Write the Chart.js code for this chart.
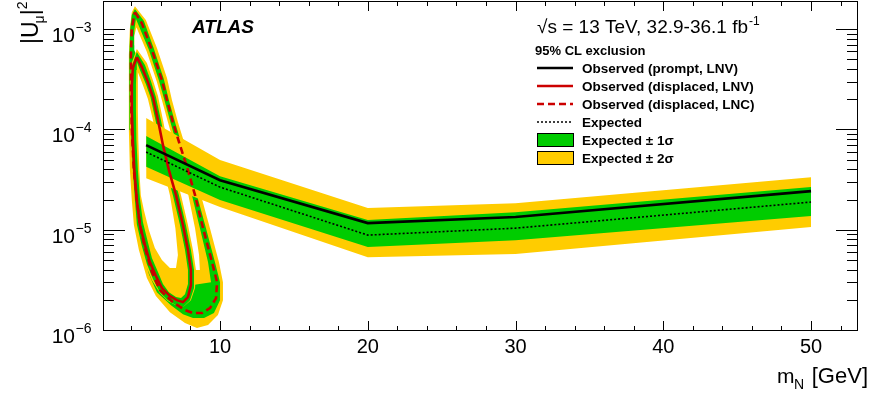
<!DOCTYPE html>
<html>
<head>
<meta charset="utf-8">
<script src="https://cdn.jsdelivr.net/npm/chart.js@4.4.1/dist/chart.umd.min.js"></script>
<style>
  html, body { margin: 0; padding: 0; background: #fff; }
  #wrap { width: 873px; height: 399px; position: relative; }
</style>
</head>
<body>
<div id="wrap"><canvas id="myChart"></canvas></div>
<script>
// prompt search (m_N in GeV, |U_mu|^2)
const promptMass = [5, 10, 20, 30, 50];
const promptObserved = [7.13e-5, 3.19e-5, 1.19e-5, 1.37e-5, 2.48e-5];
const promptExpected = [6.08e-5, 2.72e-5, 9.04e-6, 1.06e-5, 1.93e-5];
const promptPlus1 = [8.77e-5, 3.50e-5, 1.28e-5, 1.53e-5, 2.72e-5];
const promptMinus1 = [4.35e-5, 2.02e-5, 6.86e-6, 8.05e-6, 1.40e-5];
const promptPlus2 = [1.33e-4, 5.06e-5, 1.68e-5, 1.88e-5, 3.42e-5];
const promptMinus2 = [3.34e-5, 1.72e-5, 5.45e-6, 5.85e-6, 1.09e-5];

// displaced LNC: observed contour and expected band edges
const lncMass = [4.24, 4.71, 5.39, 6.07, 6.41, 6.81, 7.29, 7.83, 8.31, 8.85, 9.46, 9.80, 9.73, 9.32, 8.78, 8.17, 7.63, 6.81, 5.93, 5.39, 4.92, 4.58, 4.37, 4.17, 4.03, 3.97, 3.97, 4.03, 4.24];
const lncU2 = [1.51e-3, 1.17e-3, 6.32e-4, 3.17e-4, 2.00e-4, 1.21e-4, 7.13e-5, 4.02e-5, 2.26e-5, 1.06e-5, 4.86e-6, 3.07e-6, 2.13e-6, 1.69e-6, 1.51e-6, 1.51e-6, 1.62e-6, 1.94e-6, 2.56e-6, 3.87e-6, 6.71e-6, 1.14e-5, 2.02e-5, 4.02e-5, 1.01e-4, 2.52e-4, 5.64e-4, 1.05e-3, 1.51e-3];
const lncY2outMass = [4.24, 4.98, 5.73, 6.41, 6.75, 7.15, 7.63, 8.17, 8.71, 9.32, 9.93, 10.20, 10.20, 9.86, 9.19, 8.44, 7.63, 6.61, 5.66, 5.05, 4.51, 4.17, 4.03, 3.90, 3.83, 3.83, 3.83, 3.90, 4.03, 4.24];
const lncY2outU2 = [1.73e-3, 1.26e-3, 6.62e-4, 3.32e-4, 2.00e-4, 1.21e-4, 7.13e-5, 4.02e-5, 2.26e-5, 1.06e-5, 4.86e-6, 3.07e-6, 2.03e-6, 1.44e-6, 1.15e-6, 1.07e-6, 1.20e-6, 1.54e-6, 2.23e-6, 3.37e-6, 6.41e-6, 1.14e-5, 2.02e-5, 4.02e-5, 1.01e-4, 2.52e-4, 5.64e-4, 1.05e-3, 1.51e-3, 1.73e-3];
const lncG1outMass = [4.24, 4.85, 5.53, 6.20, 6.54, 6.95, 7.42, 7.97, 8.44, 9.05, 9.66, 10.0, 10.0, 9.59, 8.92, 8.17, 7.49, 6.68, 5.73, 5.19, 4.71, 4.37, 4.24, 4.03, 3.90, 3.86, 3.86, 3.93, 4.03, 4.24];
const lncG1outU2 = [1.62e-3, 1.23e-3, 6.47e-4, 3.24e-4, 2.00e-4, 1.21e-4, 7.13e-5, 4.02e-5, 2.26e-5, 1.06e-5, 4.86e-6, 3.07e-6, 2.03e-6, 1.51e-6, 1.35e-6, 1.35e-6, 1.47e-6, 1.81e-6, 2.44e-6, 3.69e-6, 6.56e-6, 1.14e-5, 2.02e-5, 4.02e-5, 1.01e-4, 2.52e-4, 5.64e-4, 1.05e-3, 1.41e-3, 1.62e-3];
const lncG1inMass = [4.31, 5.19, 5.86, 6.24, 6.64, 7.08, 7.63, 8.10, 8.64, 9.19, 9.39, 8.17, 8.03, 7.83, 7.49, 7.02, 6.54, 6.14, 5.80, 5.46, 5.12, 4.71, 4.37, 4.24, 4.20, 4.31];
const lncG1inU2 = [1.29e-3, 6.32e-4, 3.17e-4, 2.00e-4, 1.21e-4, 7.13e-5, 4.02e-5, 2.26e-5, 1.06e-5, 4.86e-6, 3.07e-6, 2.87e-6, 4.05e-6, 6.41e-6, 1.14e-5, 2.26e-5, 4.02e-5, 7.13e-5, 1.27e-4, 2.15e-4, 3.03e-4, 4.28e-4, 5.38e-4, 7.08e-4, 1.00e-3, 1.29e-3];
const lncY2inMass = [4.34, 5.05, 5.73, 6.07, 6.47, 6.92, 7.42, 7.86, 8.31, 8.58, 8.64, 8.24, 7.83, 7.49, 7.02, 6.54, 6.14, 5.80, 5.46, 5.12, 4.71, 4.37, 4.20, 4.20, 4.34];
const lncY2inU2 = [1.07e-3, 6.04e-4, 3.03e-4, 2.00e-4, 1.21e-4, 7.13e-5, 4.02e-5, 2.26e-5, 1.06e-5, 5.71e-6, 4.05e-6, 4.05e-6, 6.41e-6, 1.14e-5, 2.26e-5, 4.02e-5, 7.13e-5, 1.27e-4, 2.15e-4, 3.03e-4, 4.28e-4, 5.38e-4, 6.32e-4, 8.71e-4, 1.07e-3];

// displaced LNV: observed contour and expected band edges
const lnvMass = [4.37, 4.71, 5.12, 5.46, 5.80, 6.14, 6.54, 7.02, 7.49, 7.83, 8.03, 8.03, 7.83, 7.49, 7.08, 6.61, 6.07, 5.66, 5.25, 4.92, 4.58, 4.37, 4.20, 4.10, 4.03, 4.03, 4.10, 4.37];
const lnvU2 = [5.38e-4, 4.28e-4, 3.03e-4, 2.15e-4, 1.27e-4, 7.13e-5, 4.02e-5, 2.26e-5, 1.14e-5, 6.41e-6, 4.05e-6, 2.87e-6, 2.18e-6, 1.94e-6, 2.03e-6, 2.23e-6, 2.68e-6, 3.53e-6, 4.86e-6, 7.18e-6, 1.14e-5, 2.02e-5, 4.02e-5, 8.00e-5, 1.59e-4, 2.83e-4, 4.18e-4, 5.38e-4];
const lnvY2outMass = [4.37, 5.05, 5.46, 5.80, 6.14, 6.47, 6.88, 7.36, 7.83, 8.17, 8.37, 8.31, 8.03, 7.56, 7.02, 6.47, 5.93, 5.39, 4.92, 4.51, 4.24, 4.10, 3.97, 3.90, 3.90, 3.97, 4.37];
const lnvY2outU2 = [6.47e-4, 4.69e-4, 3.17e-4, 2.20e-4, 1.27e-4, 7.13e-5, 4.02e-5, 2.26e-5, 1.14e-5, 6.41e-6, 4.05e-6, 2.68e-6, 2.03e-6, 1.77e-6, 1.81e-6, 1.99e-6, 2.39e-6, 3.21e-6, 4.75e-6, 7.34e-6, 1.28e-5, 2.02e-5, 4.02e-5, 1.01e-4, 2.52e-4, 4.48e-4, 6.47e-4];
const lnvG1outMass = [4.37, 4.92, 5.32, 5.66, 6.00, 6.34, 6.75, 7.22, 7.69, 8.03, 8.24, 8.24, 7.97, 7.56, 7.02, 6.47, 5.93, 5.46, 5.05, 4.71, 4.37, 4.24, 4.10, 4.00, 3.97, 3.97, 4.03, 4.37];
const lnvG1outU2 = [6.04e-4, 4.48e-4, 3.10e-4, 2.15e-4, 1.27e-4, 7.13e-5, 4.02e-5, 2.26e-5, 1.14e-5, 6.41e-6, 4.05e-6, 2.68e-6, 2.03e-6, 1.77e-6, 1.81e-6, 2.03e-6, 2.44e-6, 3.29e-6, 4.65e-6, 7.02e-6, 1.16e-5, 2.02e-5, 4.02e-5, 8.00e-5, 1.59e-4, 2.83e-4, 4.38e-4, 6.04e-4];
const lnvG1inMass = [4.37, 4.58, 4.98, 5.29, 5.63, 5.97, 6.34, 6.81, 7.29, 7.63, 7.83, 7.83, 7.63, 7.36, 7.02, 6.54, 6.14, 5.80, 5.39, 5.12, 4.78, 4.58, 4.44, 4.34, 4.31, 4.31, 4.34, 4.37];
const lnvG1inU2 = [4.80e-4, 3.99e-4, 2.90e-4, 2.15e-4, 1.27e-4, 7.13e-5, 4.02e-5, 2.26e-5, 1.14e-5, 6.41e-6, 4.05e-6, 2.94e-6, 2.33e-6, 2.13e-6, 2.18e-6, 2.44e-6, 2.94e-6, 3.87e-6, 5.33e-6, 7.69e-6, 1.22e-5, 2.11e-5, 4.02e-5, 8.00e-5, 1.59e-4, 2.83e-4, 3.99e-4, 4.80e-4];
const lnvY2inMass = [4.44, 4.78, 5.12, 5.46, 5.80, 6.20, 6.61, 6.98, 7.15, 7.02, 6.61, 6.07, 5.59, 5.19, 4.85, 4.64, 4.54, 4.47, 4.44, 4.44, 4.44];
const lnvY2inU2 = [3.81e-4, 2.83e-4, 2.05e-4, 1.27e-4, 7.13e-5, 4.02e-5, 2.26e-5, 1.06e-5, 5.71e-6, 4.24e-6, 4.24e-6, 5.09e-6, 6.71e-6, 1.01e-5, 1.60e-5, 2.26e-5, 4.02e-5, 8.00e-5, 1.59e-4, 2.83e-4, 3.81e-4];

// axes
const xTickValues = [10, 20, 30, 40, 50];
const yTickExponents = [-6, -5, -4, -3];
const legendLabels = ['Observed (prompt, LNV)', 'Observed (displaced, LNV)', 'Observed (displaced, LNC)', 'Expected', 'Expected \u00b1 1\u03c3', 'Expected \u00b1 2\u03c3'];

const YELLOW = '#ffcc00';
const GREEN = '#00cc00';
const RED = '#cc0000';
const FONT = '"Liberation Sans", Arial, Helvetica, sans-serif';

function pts(xs, ys) {
    return xs.map((x, i) => ({ x: x, y: ys[i] }));
}

// closed contour filled with a colour (painted in order)
function shape(xs, ys, color, order) {
    return { data: pts(xs, ys), fill: 'shape', backgroundColor: color, borderWidth: 0, pointRadius: 0, order: order };
}

function line(xs, ys, color, width, dash, order) {
    return { data: pts(xs, ys), fill: false, borderColor: color, borderWidth: width, borderDash: dash, pointRadius: 0, order: order };
}

const datasets = [
    shape(lncY2outMass, lncY2outU2, YELLOW, 20),   // 0
    shape(lncG1outMass, lncG1outU2, GREEN, 19),    // 1
    shape(lncG1inMass, lncG1inU2, YELLOW, 18),     // 2
    shape(lncY2inMass, lncY2inU2, '#ffffff', 17),  // 3
    shape(lnvY2outMass, lnvY2outU2, YELLOW, 16),   // 4
    shape(lnvG1outMass, lnvG1outU2, GREEN, 15),    // 5
    shape(lnvG1inMass, lnvG1inU2, YELLOW, 14),     // 6
    shape(lnvY2inMass, lnvY2inU2, '#ffffff', 13),  // 7
    { data: pts(promptMass, promptPlus2), fill: 9, backgroundColor: YELLOW, borderWidth: 0, pointRadius: 0, order: 12 },   // 8
    { data: pts(promptMass, promptMinus2), fill: false, borderWidth: 0, pointRadius: 0, order: 11 },                     // 9
    { data: pts(promptMass, promptPlus1), fill: 11, backgroundColor: GREEN, borderWidth: 0, pointRadius: 0, order: 10 },  // 10
    { data: pts(promptMass, promptMinus1), fill: false, borderWidth: 0, pointRadius: 0, order: 9 },                      // 11
    line(lncMass, lncU2, RED, 2.6, [7, 4], 4),
    line(lnvMass, lnvU2, RED, 2.6, [], 3),
    line(promptMass, promptExpected, '#000', 1.6, [2, 2], 2),
    line(promptMass, promptObserved, '#000', 2.6, [], 1)
];

// ROOT style frame, inward ticks, labels, legend
const rootDecor = {
    id: 'rootDecor',
    afterDraw(chart) {
        const ctx = chart.ctx;
        const a = chart.chartArea;
        const xs = chart.scales.x;
        const ys = chart.scales.y;
        ctx.save();
        ctx.strokeStyle = '#000';
        ctx.lineWidth = 1;
        ctx.strokeRect(a.left + 0.5, a.top + 0.5, a.right - a.left - 1, a.bottom - a.top - 1);

        ctx.beginPath();
        for (let v = 4; v <= 52; v += 2) {
            const px = Math.round(xs.getPixelForValue(v)) + 0.5;
            const len = xTickValues.includes(v) ? 10 : 5;
            ctx.moveTo(px, a.bottom); ctx.lineTo(px, a.bottom - len);
            ctx.moveTo(px, a.top); ctx.lineTo(px, a.top + len);
        }
        for (let e = -6; e <= -3; e++) {
            for (let k = 1; k <= 9; k++) {
                const v = k * Math.pow(10, e);
                if (v > ys.max) continue;
                const py = Math.round(ys.getPixelForValue(v)) - 0.5;
                const len = k === 1 ? 22 : 11;
                ctx.moveTo(a.left, py); ctx.lineTo(a.left + len, py);
                ctx.moveTo(a.right, py); ctx.lineTo(a.right - len, py);
            }
        }
        ctx.stroke();

        // y tick labels 10^n
        ctx.fillStyle = '#000';
        ctx.textBaseline = 'alphabetic';
        for (const e of yTickExponents) {
            const py = ys.getPixelForValue(Math.pow(10, e));
            ctx.font = '21px ' + FONT;
            ctx.textAlign = 'right';
            ctx.fillText('10', 75, py + 12);
            ctx.font = '14px ' + FONT;
            ctx.textAlign = 'left';
            ctx.fillText('\u2212' + Math.abs(e), 75.5, py + 2);
        }

        // axis titles
        ctx.textAlign = 'left';
        ctx.font = '21px ' + FONT;
        ctx.fillText('m', 777, 383);
        ctx.font = '14px ' + FONT;
        ctx.fillText('N', 794, 389);
        ctx.font = '22px ' + FONT;
        ctx.textAlign = 'right';
        ctx.fillText('[GeV]', 868, 383);

        ctx.save();
        ctx.translate(38, 44);
        ctx.rotate(-Math.PI / 2);
        ctx.textAlign = 'left';
        let t = 0;
        ctx.font = '23px ' + FONT;
        ctx.fillText('|U', t, 0); t += ctx.measureText('|U').width;
        ctx.font = '14px ' + FONT;
        ctx.fillText('\u03bc', t - 2, 6); t += ctx.measureText('\u03bc').width - 2;
        ctx.font = '23px ' + FONT;
        ctx.fillText('|', t, 0); t += ctx.measureText('|').width;
        ctx.font = '14px ' + FONT;
        ctx.fillText('2', t, -11);
        ctx.restore();

        // labels
        ctx.textAlign = 'left';
        ctx.font = 'italic bold 19px ' + FONT;
        ctx.fillText('ATLAS', 192, 33);
        ctx.font = '19px ' + FONT;
        const energy = '\u221as = 13 TeV, 32.9-36.1 fb';
        const ew = ctx.measureText(energy).width;
        ctx.fillText(energy, 748 - ew, 33);
        ctx.font = '12px ' + FONT;
        ctx.fillText('-1', 749, 25);
        ctx.font = 'bold 13px ' + FONT;
        ctx.fillText('95% CL exclusion', 535, 55);

        // legend
        const rows = [68, 86, 104, 122, 140, 158];
        const styles = [
            { c: '#000', w: 2.6, d: [] },
            { c: RED, w: 2.6, d: [] },
            { c: RED, w: 2.6, d: [7, 4] },
            { c: '#000', w: 1.6, d: [2, 2] },
            { box: GREEN },
            { box: YELLOW }
        ];
        ctx.font = 'bold 13.5px ' + FONT;
        legendLabels.forEach((lab, i) => {
            const y = rows[i];
            const s = styles[i];
            if (s.box) {
                ctx.fillStyle = s.box;
                ctx.fillRect(537.5, y - 6.5, 36, 13);
                ctx.strokeStyle = '#000';
                ctx.lineWidth = 1;
                ctx.setLineDash([]);
                ctx.strokeRect(537.5, y - 6.5, 36, 13);
            } else {
                ctx.strokeStyle = s.c;
                ctx.lineWidth = s.w;
                ctx.setLineDash(s.d);
                ctx.beginPath();
                ctx.moveTo(537, y);
                ctx.lineTo(573, y);
                ctx.stroke();
                ctx.setLineDash([]);
            }
            ctx.fillStyle = '#000';
            ctx.fillText(lab, 582, y + 5);
        });
        ctx.restore();
    }
};

Chart.defaults.font.family = FONT;
Chart.defaults.color = '#000';

new Chart(document.getElementById('myChart'), {
    type: 'line',
    data: { datasets: datasets },
    options: {
        responsive: true,
        maintainAspectRatio: false,
        devicePixelRatio: 1,
        animation: false,
        events: [],
        layout: { padding: { top: 1, right: 15, left: 0, bottom: 0 } },
        plugins: { legend: { display: false }, tooltip: { enabled: false } },
        scales: {
            x: {
                type: 'linear',
                min: 2.08,
                max: 53.18,
                grid: { display: false },
                border: { display: false },
                afterBuildTicks: (s) => { s.ticks = xTickValues.map(v => ({ value: v })); },
                afterFit: (s) => { s.height = 68; },
                ticks: { font: { size: 20 }, color: '#000', padding: -4, maxRotation: 0, autoSkip: false }
            },
            y: {
                type: 'logarithmic',
                min: 1e-6,
                max: 1.95e-3,
                grid: { display: false },
                border: { display: false },
                ticks: { display: false },
                afterFit: (s) => { s.width = 103; }
            }
        }
    },
    plugins: [rootDecor]
});
</script>
</body>
</html>
